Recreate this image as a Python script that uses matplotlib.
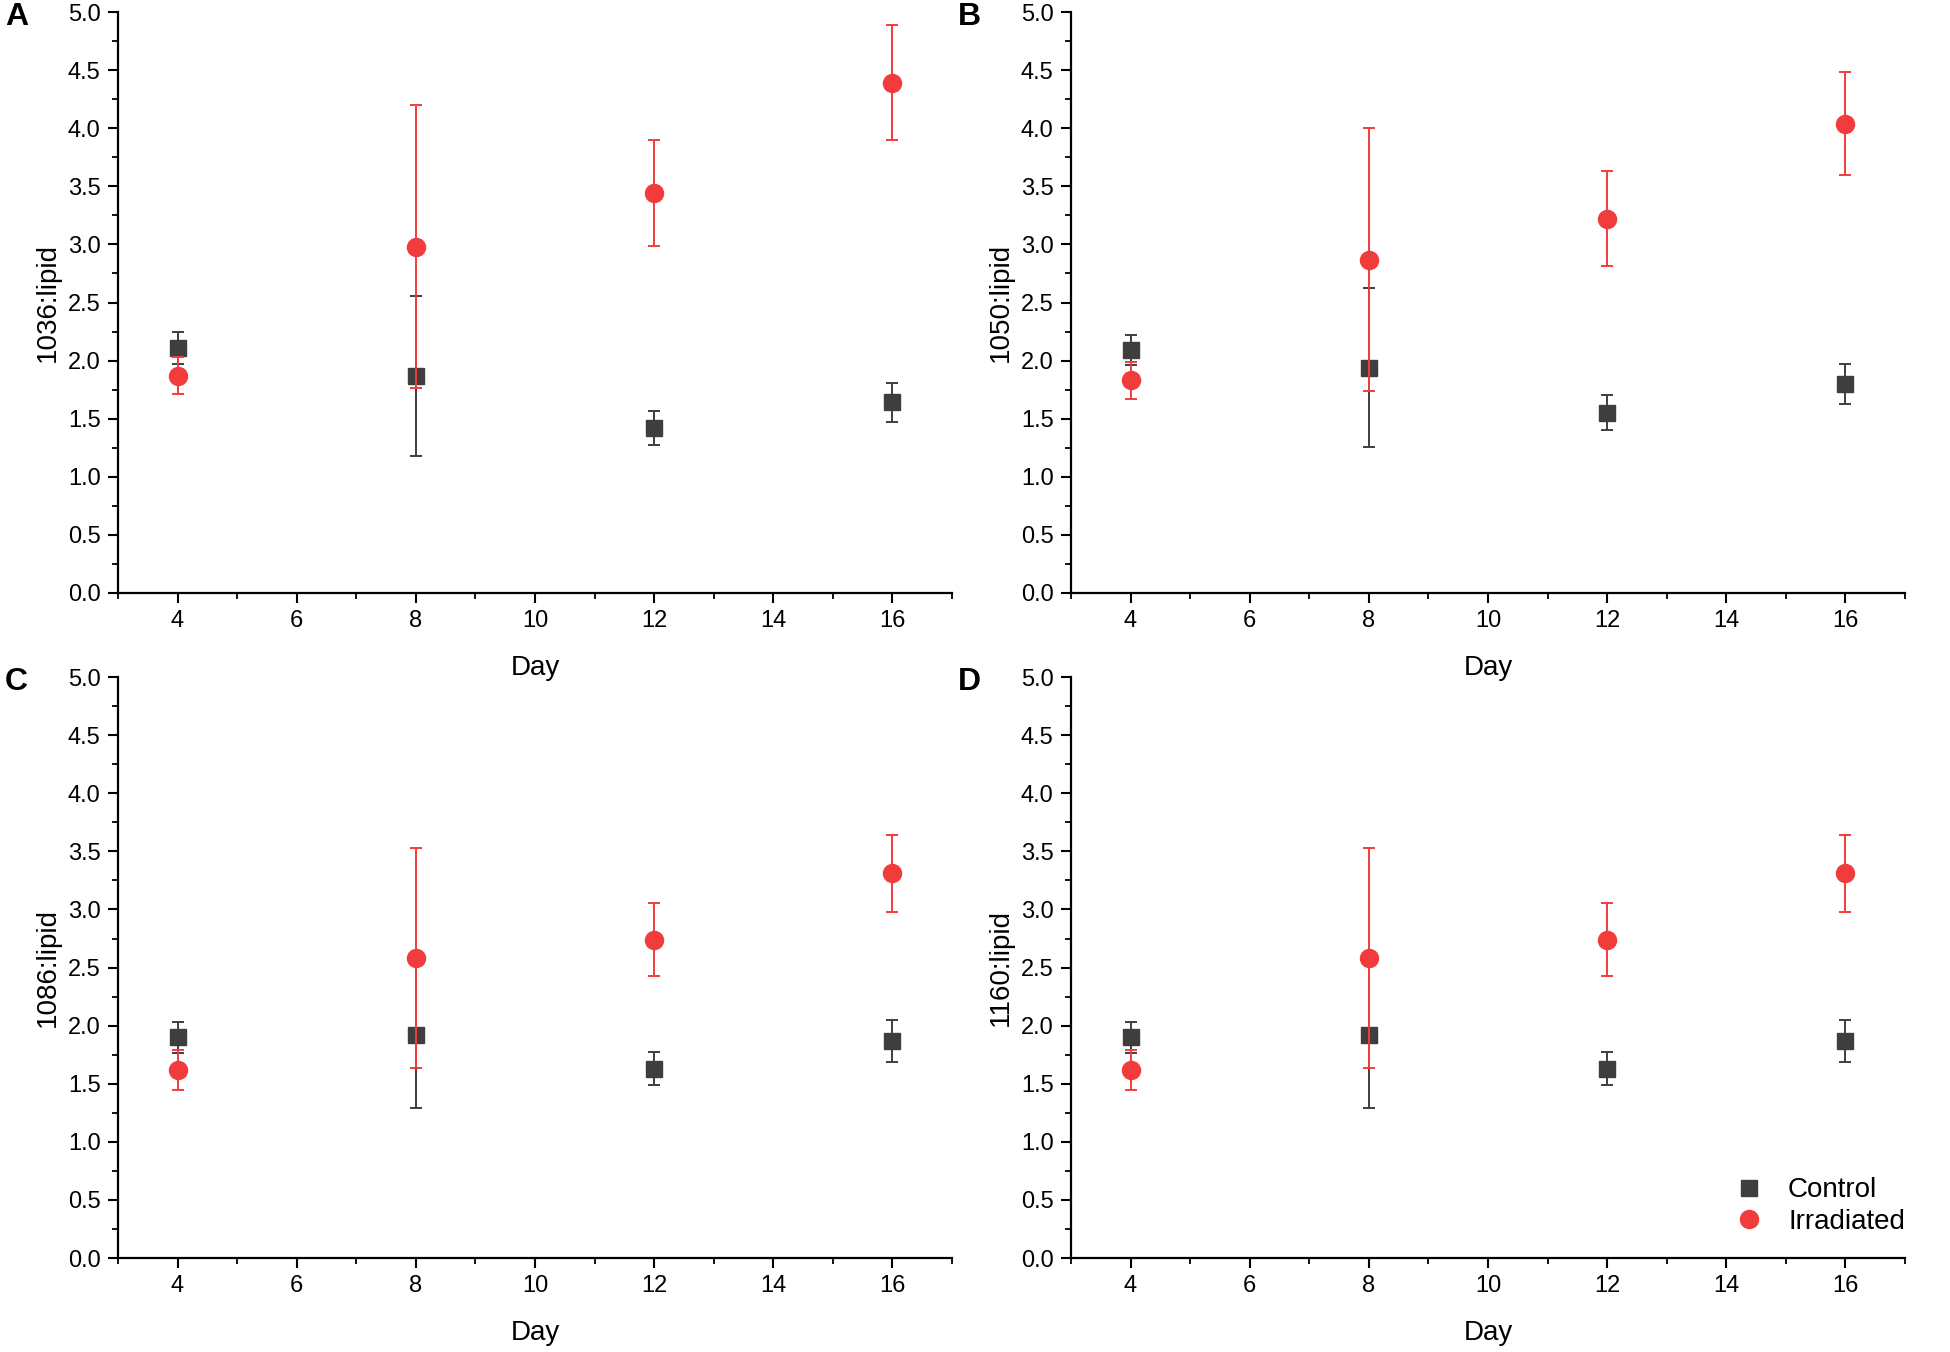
import matplotlib
matplotlib.use("Agg")
import matplotlib.pyplot as plt
from matplotlib.lines import Line2D
from matplotlib.ticker import MultipleLocator, FormatStrFormatter

days = [4, 8, 12, 16]

ylabels = ["1036:lipid", "1050:lipid", "1086:lipid", "1160:lipid"]
panel_letters = ["A", "B", "C", "D"]

# control / irradiated means and errors
ctrl_1036 = [2.11, 1.87, 1.42, 1.64]
ctrl_1036_err = [0.14, 0.69, 0.145, 0.17]
irr_1036 = [1.87, 2.98, 3.44, 4.39]
irr_1036_err = [0.16, 1.22, 0.455, 0.495]

ctrl_1050 = [2.09, 1.94, 1.55, 1.80]
ctrl_1050_err = [0.13, 0.685, 0.15, 0.175]
irr_1050 = [1.83, 2.87, 3.22, 4.04]
irr_1050_err = [0.16, 1.13, 0.41, 0.44]

ctrl_1086 = [1.90, 1.92, 1.63, 1.87]
ctrl_1086_err = [0.135, 0.625, 0.14, 0.18]
irr_1086 = [1.62, 2.58, 2.74, 3.31]
irr_1086_err = [0.17, 0.945, 0.315, 0.33]

ctrl_1160 = [1.90, 1.92, 1.63, 1.87]
ctrl_1160_err = [0.135, 0.625, 0.14, 0.18]
irr_1160 = [1.62, 2.58, 2.74, 3.31]
irr_1160_err = [0.17, 0.945, 0.315, 0.33]

ctrl_vals = [ctrl_1036, ctrl_1050, ctrl_1086, ctrl_1160]
ctrl_errs = [ctrl_1036_err, ctrl_1050_err, ctrl_1086_err, ctrl_1160_err]
irr_vals = [irr_1036, irr_1050, irr_1086, irr_1160]
irr_errs = [irr_1036_err, irr_1050_err, irr_1086_err, irr_1160_err]

ctrl_color = "#3e3e3e"
irr_color = "#f23c3c"

plt.rcParams['font.family'] = ['Liberation Sans', 'DejaVu Sans']

fig = plt.figure(figsize=(19.5, 13.52), dpi=100)

# axes boxes in figure fractions
lefts = [0.0605, 0.5492, 0.0605, 0.5492]
bottoms = [0.5614, 0.5614, 0.0695, 0.0695]
width = 0.4277
height = 0.4297

for i in range(4):
    ax = fig.add_axes([lefts[i], bottoms[i], width, height])
    ax.patch.set_visible(False)  # keep the "Day" label of the top row visible
    ax.errorbar(days, ctrl_vals[i], yerr=ctrl_errs[i], fmt='s', color=ctrl_color,
                ecolor=ctrl_color, markersize=11.5, capsize=4.3, elinewidth=1.4,
                capthick=1.4, zorder=3)
    ax.errorbar(days, irr_vals[i], yerr=irr_errs[i], fmt='o', color=irr_color,
                ecolor=irr_color, markersize=13, capsize=4.3, elinewidth=1.4,
                capthick=1.4, zorder=4)

    ax.set_xlim(3, 17)
    ax.set_ylim(0, 5.0)
    ax.set_xticks([4, 6, 8, 10, 12, 14, 16])
    ax.xaxis.set_minor_locator(MultipleLocator(1))
    ax.yaxis.set_major_locator(MultipleLocator(0.5))
    ax.yaxis.set_minor_locator(MultipleLocator(0.25))
    ax.yaxis.set_major_formatter(FormatStrFormatter('%.1f'))

    for side in ['top', 'right']:
        ax.spines[side].set_visible(False)
    for side in ['left', 'bottom']:
        ax.spines[side].set_linewidth(1.6)

    ax.tick_params(which='major', direction='out', length=7.5, width=1.5, labelsize=17, pad=5)
    ax.tick_params(which='minor', direction='out', length=4, width=1.3)

    ax.set_xlabel("Day", fontsize=20)
    ax.set_ylabel(ylabels[i], fontsize=20)
    ax.xaxis.set_label_coords(0.5, -0.107)
    ax.yaxis.set_label_coords(-0.068, 0.5)

    fig.text(lefts[i] - 113 / 1950, bottoms[i] + height - 0.0037, panel_letters[i],
             fontsize=23, fontweight='bold', va='center', ha='left')

    if i == 3:
        handles = [Line2D([], [], ls='none', marker='s', color=ctrl_color, markersize=12),
                   Line2D([], [], ls='none', marker='o', color=irr_color, markersize=13)]
        ax.legend(handles, ["Control", "Irradiated"], loc='lower right',
                  bbox_to_anchor=(1.0, 0.04), frameon=False, fontsize=20,
                  handlelength=1.0, handletextpad=0.9, borderaxespad=0,
                  borderpad=0, labelspacing=0.2)

fig.savefig("out.png", dpi=100)
